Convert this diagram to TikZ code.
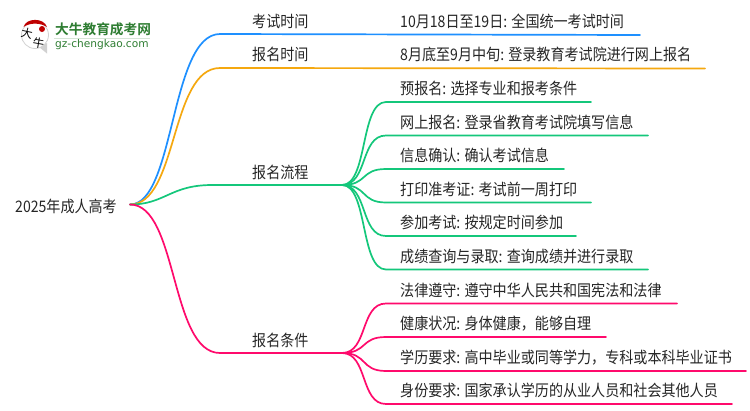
\documentclass[tikz,border=0pt]{standalone}
\usepackage{fontspec}
\setmainfont{Noto Sans CJK SC}[FakeStretch=0.885]
\newfontfamily\logofont{Noto Sans CJK SC}
\newfontfamily\logoboldfont{Noto Sans CJK SC Bold}
\newfontfamily\logolat{DejaVu Sans}
\definecolor{cblue}{HTML}{1E90FF}
\definecolor{corange}{HTML}{F5A80F}
\definecolor{cgreen}{HTML}{14C77B}
\definecolor{cpink}{HTML}{FF0A6C}
\definecolor{ctext}{HTML}{262626}
\definecolor{clogo}{HTML}{2E7D32}
\tikzset{
  x=1pt,y=-1pt,
  lbl/.style={font=\fontsize{15.9}{16}\selectfont,text=ctext,inner sep=0pt,anchor=base west},
  wire/.style={line width=1.7pt,line cap=round},
}
\begin{document}
\begin{tikzpicture}
\useasboundingbox (0,0) rectangle (750,410);
\fill[white] (0,0) rectangle (750,410);
% hubs
\coordinate (root) at (130,204.5);
\coordinate (hA) at (220,34); \coordinate (eA) at (640,35);
\coordinate (hB) at (220,68); \coordinate (eB) at (705,68.5);
\coordinate (hC) at (212,185); \coordinate (jC) at (342,185);
\coordinate (hD) at (220,353); \coordinate (jD) at (342,353);
% leaf ends
\foreach \n/\y/\e in {c1/102/591,c2/135.5/648,c3/169/564,c4/202.5/591,c5/236/576,c6/269.5/648,d1/303.5/677,d2/337/606,d3/371/746,d4/404/732}{
  \coordinate (\n s) at (386,\y);
  \coordinate (\n e) at (\e,\y);
}
% branches
\draw[wire,cblue] (root) .. controls (175,204.5) and (170,34) .. (hA) -- (eA);
\draw[wire,corange] (root) .. controls (178,204.5) and (170,68) .. (hB) -- (eB);
\draw[wire,cgreen] (root) .. controls (165,204.5) and (170,185) .. (hC) -- (jC);
\foreach \n in {c1,c2,c3,c4,c5,c6}{
  \draw[wire,cgreen] (jC) .. controls (368,185) and (360,0|-\n s) .. (\n s) -- (\n e);
}
\draw[wire,cpink] (root) .. controls (178,204.5) and (170,353) .. (hD) -- (jD);
\foreach \n in {d1,d2,d3,d4}{
  \draw[wire,cpink] (jD) .. controls (368,353) and (360,0|-\n s) .. (\n s) -- (\n e);
}
% texts
\node[lbl] (root t) at (15,212) {2025年成人高考};
\node[lbl] (ta) at (252,27) {考试时间};
\node[lbl] (tb) at (252,60.5) {报名时间};
\node[lbl] (tc) at (252,178) {报名流程};
\node[lbl] (td) at (252,346) {报名条件};
\node[lbl] (la) at (400,27) {10月18日至19日: 全国统一考试时间};
\node[lbl] (lb) at (400,60.5) {8月底至9月中旬: 登录教育考试院进行网上报名};
\node[lbl] (c1) at (400,94.5) {预报名: 选择专业和报考条件};
\node[lbl] (c2) at (400,128) {网上报名: 登录省教育考试院填写信息};
\node[lbl] (c3) at (400,161.5) {信息确认: 确认考试信息};
\node[lbl] (c4) at (400,195) {打印准考证: 考试前一周打印};
\node[lbl] (c5) at (400,228.5) {参加考试: 按规定时间参加};
\node[lbl] (c6) at (400,262) {成绩查询与录取: 查询成绩并进行录取};
\node[lbl] (d1) at (400,296) {法律遵守: 遵守中华人民共和国宪法和法律};
\node[lbl] (d2) at (400,329.5) {健康状况: 身体健康，能够自理};
\node[lbl] (d3) at (400,363.5) {学历要求: 高中毕业或同等学力，专科或本科毕业证书};
\node[lbl] (d4) at (400,396.5) {身份要求: 国家承认学历的从业人员和社会其他人员};
% logo
\fill[black!18] (39,47) -- (47,53.5) -- (47,43) -- cycle;
\fill[white,draw=black!18,line width=.8pt] (35,35) circle (13.5);
\fill[red!75!black] (23.5,27) .. controls (26,17.5) and (44,17.5) .. (47,27) .. controls (40,22.5) and (30,22.5) .. (23.5,27) -- cycle;
\fill[red!75!black] (42,29) circle (3);
\node[inner sep=0pt,font=\fontsize{11.5}{12}\selectfont\logofont,rotate=-12] (ld) at (27,33) {大};
\node[inner sep=0pt,font=\fontsize{11.5}{12}\selectfont\logofont,rotate=-10] (ln) at (38.5,43.5) {牛};
\node[inner sep=0pt,anchor=base west,font=\fontsize{13.7}{14}\selectfont\logoboldfont,text=clogo] (lt) at (55,34.5) {大牛教育成考网};
\fill[clogo!20] (54,38.2) rectangle (150,39.2);
\node[inner sep=0pt,anchor=base west,font=\fontsize{10.6}{11}\selectfont\logolat,text=clogo] (lu) at (55,47.5) {gz-chengkao.com};
\end{tikzpicture}
\end{document}
